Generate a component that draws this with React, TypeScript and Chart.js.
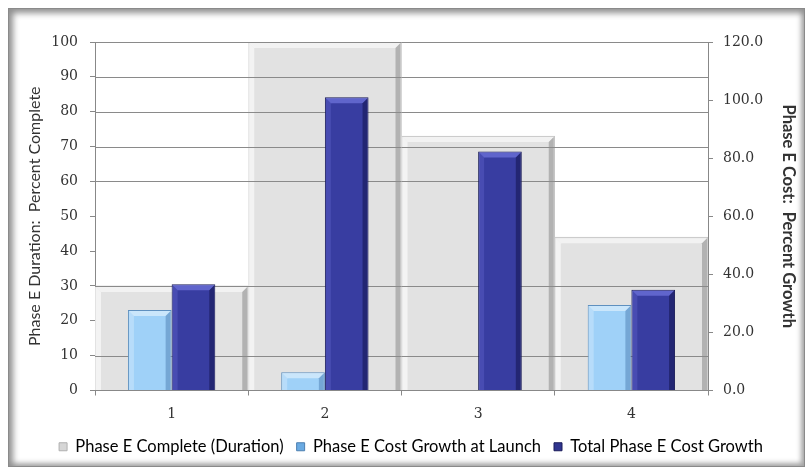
import { useEffect, useRef } from 'react';
import { Chart, registerables } from 'chart.js';

Chart.register(...registerables);

const categories = ['1', '2', '3', '4'];
const phaseEComplete = [30, 100, 73, 44];
const costGrowthAtLaunch = [27.7, 6.3, 0, 29.4];
const totalCostGrowth = [36.6, 101.0, 82.3, 34.7];
const seriesNames = [
  'Phase E Complete (Duration)',
  'Phase E Cost Growth at Launch',
  'Total Phase E Cost Growth',
];
const leftTitle = 'Phase E Duration:  Percent Complete';
const rightTitle = 'Phase E Cost:  Percent Growth';

const hiddenGrid = [0, 20, 40, 50];

const bevels: Record<number, { top: string; right: string; left: string; size: number }> = {
  0: { top: 'rgba(255,255,255,0.55)', right: 'rgba(120,120,120,0.45)', left: 'rgba(255,255,255,0.6)', size: 5 },
  1: { top: 'rgba(255,255,255,0.45)', right: 'rgba(40,90,150,0.35)', left: 'rgba(255,255,255,0.25)', size: 5 },
  2: { top: 'rgba(130,135,240,0.55)', right: 'rgba(10,10,60,0.45)', left: 'rgba(120,125,230,0.25)', size: 5 },
};

const bevelPlugin = {
  id: 'bevelPlugin',
  afterDatasetDraw(chart: any, args: any) {
    const ctx = chart.ctx;
    const b = bevels[args.index];
    const meta = chart.getDatasetMeta(args.index);
    ctx.save();
    meta.data.forEach((bar: any) => {
      const { x, y, base, width } = bar.getProps(['x', 'y', 'base', 'width'], true);
      const h = base - y;
      if (h < 2) return;
      const l = x - width / 2 + 1;
      const r = x + width / 2 - 1;
      const s = Math.min(b.size, h / 2);
      ctx.fillStyle = b.top;
      ctx.beginPath();
      ctx.moveTo(l, y + 1);
      ctx.lineTo(r, y + 1);
      ctx.lineTo(r - s, y + 1 + s);
      ctx.lineTo(l + s, y + 1 + s);
      ctx.closePath();
      ctx.fill();
      ctx.fillStyle = b.right;
      ctx.beginPath();
      ctx.moveTo(r, y + 1);
      ctx.lineTo(r, base);
      ctx.lineTo(r - s, base);
      ctx.lineTo(r - s, y + 1 + s);
      ctx.closePath();
      ctx.fill();
      ctx.fillStyle = b.left;
      ctx.beginPath();
      ctx.moveTo(l, y + 1);
      ctx.lineTo(l + s, y + 1 + s);
      ctx.lineTo(l + s, base);
      ctx.lineTo(l, base);
      ctx.closePath();
      ctx.fill();
    });
    ctx.restore();
    if (args.index === 0) {
      const ys = chart.scales.y;
      const { left, right } = chart.chartArea;
      ctx.save();
      ctx.strokeStyle = '#8a8a8a';
      ctx.lineWidth = 1;
      ys.ticks.forEach((t: any) => {
        if (hiddenGrid.includes(t.value)) return;
        const py = Math.round(ys.getPixelForValue(t.value)) + 0.5;
        ctx.beginPath();
        ctx.moveTo(left, py);
        ctx.lineTo(right, py);
        ctx.stroke();
      });
      ctx.restore();
    }
  },
};

export default function App() {
  const ref = useRef<HTMLCanvasElement | null>(null);
  useEffect(() => {
    if (!ref.current) return;
    const serif = { family: '"DejaVu Serif", serif', size: 14 };
    const chart = new Chart(ref.current, {
      type: 'bar',
      data: {
        labels: categories,
        datasets: [
          {
            label: seriesNames[0],
            data: phaseEComplete,
            yAxisID: 'y',
            grouped: false,
            order: 1,
            barPercentage: 1,
            categoryPercentage: 1,
            backgroundColor: '#e2e2e2',
            borderColor: '#c4c4c4',
            borderWidth: { top: 1, right: 1, left: 0, bottom: 0 },
            borderSkipped: false,
          } as any,
          {
            label: seriesNames[1],
            data: costGrowthAtLaunch,
            yAxisID: 'y1',
            order: 0,
            barPercentage: 1,
            categoryPercentage: 0.57,
            backgroundColor: '#9fd1f8',
            borderColor: '#5f90bf',
            borderWidth: 1,
          },
          {
            label: seriesNames[2],
            data: totalCostGrowth,
            yAxisID: 'y1',
            order: 0,
            barPercentage: 1,
            categoryPercentage: 0.57,
            backgroundColor: '#383da1',
            borderColor: '#1b1d5a',
            borderWidth: 1,
          },
        ],
      },
      options: {
        animation: false,
        responsive: false,
        devicePixelRatio: 1,
        layout: { padding: { left: 22, right: 10, top: 42, bottom: 5 } },
        plugins: {
          tooltip: { enabled: false },
          legend: {
            position: 'bottom',
            labels: {
              boxWidth: 8,
              boxHeight: 8,
              padding: 13,
              color: '#333',
              font: { family: 'Lato, sans-serif', size: 16.5 },
              generateLabels: () => [
                { text: seriesNames[0], fillStyle: '#d6d6d6', strokeStyle: '#b0b0b0', lineWidth: 1, datasetIndex: 0 },
                { text: seriesNames[1], fillStyle: '#6aaae2', strokeStyle: '#4d7fb0', lineWidth: 1, datasetIndex: 1 },
                { text: seriesNames[2], fillStyle: '#30358f', strokeStyle: '#1b1d5a', lineWidth: 1, datasetIndex: 2 },
              ] as any,
            },
          },
        },
        scales: {
          x: {
            grid: { drawOnChartArea: false, offset: true, tickLength: 5, color: '#888', tickColor: '#888' },
            border: { color: '#888' },
            ticks: { font: serif, color: '#333', padding: 10 },
            afterFit: (s: any) => { s.height = 35; },
          },
          y: {
            position: 'left',
            min: 0,
            max: 100,
            ticks: { stepSize: 10, font: serif, color: '#333', padding: 12 },
            grid: { drawOnChartArea: false, tickLength: 5, tickColor: '#888' },
            border: { color: '#888' },
            title: {
              display: true,
              text: leftTitle,
              color: '#333',
              font: { family: 'Lato, sans-serif', size: 16 },
              padding: { top: 3, bottom: 2 },
            },
            afterFit: (s: any) => { s.width = 73; },
          },
          y1: {
            position: 'right',
            min: 0,
            max: 120,
            ticks: {
              stepSize: 20,
              font: serif,
              color: '#333',
              padding: 10,
              callback: (v: any) => Number(v).toFixed(1),
            },
            grid: { drawOnChartArea: false, tickLength: 5, tickColor: '#888' },
            border: { color: '#888' },
            title: {
              display: true,
              text: rightTitle,
              color: '#333',
              font: { family: 'Lato, sans-serif', size: 16.5, weight: 'bold' },
              padding: { top: 2, bottom: 2 },
            },
            afterFit: (s: any) => { s.width = 92; },
          },
        },
      },
      plugins: [bevelPlugin],
    });
    return () => chart.destroy();
  }, []);

  return (
    <div style={{ position: 'fixed', left: 0, top: 0, width: 810, height: 470, background: '#fff' }}>
      <div
        style={{
          position: 'absolute',
          left: 8,
          top: 8,
          width: 797,
          height: 459,
          boxSizing: 'border-box',
          border: '1px solid #8a8a8a',
          boxShadow: 'inset 4px 4px 6px #8f8f8f, inset -3px -3px 5px #a8a8a8',
          background: '#fff',
        }}
      />
      <canvas ref={ref} width={810} height={470} style={{ position: 'absolute', left: 0, top: 0, width: 810, height: 470 }} />
    </div>
  );
}
